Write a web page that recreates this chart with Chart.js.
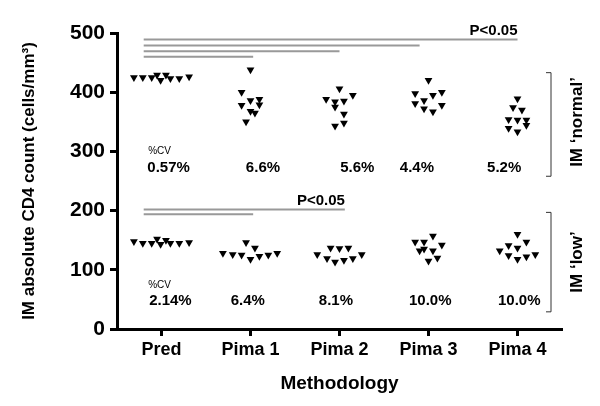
<!DOCTYPE html>
<html>
<head>
<meta charset="utf-8">
<script src="https://cdn.jsdelivr.net/npm/chart.js@4"></script>
<style>
  html, body { margin: 0; padding: 0; background: #fff; }
</style>
</head>
<body>
<canvas id="cd4Chart" width="600" height="406"></canvas>
<script>
// categories on the x axis
const categories = ['Pred', 'Pima 1', 'Pima 2', 'Pima 3', 'Pima 4'];
const yTicks = [0, 100, 200, 300, 400, 500];

// IM 'normal' values per method (cells/mm3) and horizontal spread inside each column
const normalValues = [
  [425, 425, 425, 429, 420, 429, 423, 423, 426],
  [438, 400, 386, 388, 378, 379, 368, 365, 350],
  [406, 395, 388, 384, 385, 375, 363, 343, 348],
  [420, 398, 395, 400, 386, 381, 372, 367, 378],
  [389, 374, 370, 354, 353, 353, 339, 333, 344]
];
const normalJitter = [
  [-0.31, -0.21, -0.11, -0.05, -0.01, 0.05, 0.10, 0.20, 0.31],
  [0, -0.1, 0, 0.1, -0.1, 0.1, 0, 0.05, -0.05],
  [0, 0.15, -0.15, -0.05, 0.05, -0.05, 0.05, -0.05, 0.05],
  [0, -0.15, 0.05, 0.15, -0.05, -0.15, -0.05, 0.05, 0.15],
  [0, -0.05, 0.05, -0.1, 0, 0.1, -0.1, 0, 0.1]
];

// IM 'low' values
const lowValues = [
  [148, 145, 145, 152, 143, 150, 145, 145, 146],
  [128, 126, 125, 146, 137, 118, 123, 125, 128],
  [126, 119, 137, 113, 136, 116, 137, 119, 126],
  [147, 147, 157, 142, 132, 135, 132, 115, 120],
  [160, 141, 147, 132, 137, 124, 118, 122, 126]
];
const lowJitter = [
  [-0.31, -0.21, -0.11, -0.05, -0.01, 0.05, 0.10, 0.20, 0.31],
  [-0.31, -0.2, -0.1, -0.05, 0.05, 0, 0.1, 0.2, 0.3],
  [-0.25, -0.14, -0.1, -0.05, 0, 0.05, 0.1, 0.15, 0.25],
  [-0.15, -0.05, 0.05, 0.15, -0.1, -0.05, 0.05, 0, 0.1],
  [0, -0.1, 0.1, -0.2, 0, -0.1, 0, 0.1, 0.2]
];

// %CV per method
const cvNormal = ['0.57%', '6.6%', '5.6%', '4.4%', '5.2%'];
const cvLow = ['2.14%', '6.4%', '8.1%', '10.0%', '10.0%'];

// significance bars: level and end column (all start left of Pred)
const sigNormalY = [489, 479, 469, 460];
const sigNormalEnd = [5, 3.9, 3, 2.03];
const sigLowY = [202, 194];
const sigLowEnd = [3.06, 2.03];

const FONT = 'Arial, "Liberation Sans", sans-serif';

function toPoints(values, jitter) {
  const pts = [];
  values.forEach((col, i) => {
    col.forEach((v, j) => pts.push({ x: i + 1 + jitter[i][j], y: v }));
  });
  return pts;
}

const datasets = [];
datasets.push({
  type: 'scatter',
  data: toPoints(normalValues, normalJitter),
  pointStyle: 'triangle', rotation: 180, pointRadius: 4.5,
  backgroundColor: '#000', borderColor: '#000', borderWidth: 0
});
datasets.push({
  type: 'scatter',
  data: toPoints(lowValues, lowJitter),
  pointStyle: 'triangle', rotation: 180, pointRadius: 4.5,
  backgroundColor: '#000', borderColor: '#000', borderWidth: 0
});
sigNormalY.forEach((lvl, i) => {
  datasets.push({
    type: 'line',
    data: [{ x: 0.8, y: lvl }, { x: sigNormalEnd[i], y: lvl }],
    borderColor: '#999', borderWidth: 2, pointRadius: 0
  });
});
sigLowY.forEach((lvl, i) => {
  datasets.push({
    type: 'line',
    data: [{ x: 0.8, y: lvl }, { x: sigLowEnd[i], y: lvl }],
    borderColor: '#999', borderWidth: 2, pointRadius: 0
  });
});

// texts: P values, %CV, side brackets
const annotate = {
  id: 'annotate',
  afterDraw(chart) {
    const { ctx, scales: { x, y } } = chart;
    ctx.save();
    ctx.fillStyle = '#000';

    ctx.font = 'bold 15px ' + FONT;
    ctx.textAlign = 'right';
    ctx.textBaseline = 'bottom';
    ctx.fillText('P<0.05', x.getPixelForValue(sigNormalEnd[0]), y.getPixelForValue(sigNormalY[0]) - 1);
    ctx.fillText('P<0.05', x.getPixelForValue(sigLowEnd[0]), y.getPixelForValue(sigLowY[0]) - 1);

    const cvNormalShift = [0.08, 0.14, 0.2, -0.13, -0.15];
    const cvLowShift = [0.1, -0.03, -0.04, 0.02, 0.02];
    ctx.textAlign = 'center';
    ctx.textBaseline = 'middle';
    ctx.font = 'bold 15px ' + FONT;
    cvNormal.forEach((t, i) => ctx.fillText(t, x.getPixelForValue(i + 1 + cvNormalShift[i]), y.getPixelForValue(272)));
    cvLow.forEach((t, i) => ctx.fillText(t, x.getPixelForValue(i + 1 + cvLowShift[i]), y.getPixelForValue(47)));

    ctx.font = '10px ' + FONT;
    ctx.textAlign = 'left';
    ctx.fillText('%CV', x.getPixelForValue(0.85), y.getPixelForValue(300));
    ctx.fillText('%CV', x.getPixelForValue(0.85), y.getPixelForValue(74));

    // brackets on the right
    const bx = 551;
    ctx.strokeStyle = '#333';
    ctx.lineWidth = 1;
    [[433, 258], [197, 29]].forEach(([top, bot]) => {
      const t = y.getPixelForValue(top), b = y.getPixelForValue(bot);
      ctx.beginPath();
      ctx.moveTo(bx - 5, t); ctx.lineTo(bx, t); ctx.lineTo(bx, b); ctx.lineTo(bx - 5, b);
      ctx.stroke();
    });

    ctx.font = 'bold 17px ' + FONT;
    ctx.textAlign = 'center';
    [['IM \u2018normal\u2019', 122], ['IM \u2018low\u2019', 262]].forEach(([t, cy]) => {
      ctx.save();
      ctx.translate(577, cy);
      ctx.rotate(-Math.PI / 2);
      ctx.fillText(t, 0, 0);
      ctx.restore();
    });
    ctx.restore();
  }
};

new Chart(document.getElementById('cd4Chart').getContext('2d'), {
  data: { datasets: datasets },
  options: {
    responsive: false,
    animation: false,
    layout: { padding: { top: 33, right: 38, left: 0, bottom: 0 } },
    plugins: { legend: { display: false }, tooltip: { enabled: false } },
    scales: {
      x: {
        type: 'linear',
        min: 0.5, max: 5.5,
        afterBuildTicks: s => { s.ticks = categories.map((c, i) => ({ value: i + 1 })); },
        afterFit: s => { s.height = 77; },
        ticks: {
          callback: v => categories[v - 1],
          color: '#000', padding: 3,
          font: { family: FONT, size: 18, weight: 'bold' }
        },
        grid: { drawOnChartArea: false, tickLength: 7, tickWidth: 3, tickColor: '#000' },
        border: { color: '#000', width: 3 },
        title: {
          display: true, text: 'Methodology', color: '#000',
          font: { family: FONT, size: 19, weight: 'bold' },
          padding: { top: 0, bottom: 11 }
        }
      },
      y: {
        min: 0, max: 500,
        afterBuildTicks: s => { s.ticks = yTicks.map(v => ({ value: v })); },
        afterFit: s => { s.width = 117; },
        ticks: {
          color: '#000', padding: 5,
          font: { family: FONT, size: 21, weight: 'bold' }
        },
        grid: { drawOnChartArea: false, tickLength: 7, tickWidth: 3, tickColor: '#000' },
        border: { color: '#000', width: 3 },
        title: {
          display: true, text: 'IM absolute CD4 count (cells/mm\u00b3)', color: '#000',
          font: { family: FONT, size: 17, weight: 'bold' },
          padding: { top: 19, bottom: 0 }
        }
      }
    }
  },
  plugins: [annotate]
});
</script>
</body>
</html>
